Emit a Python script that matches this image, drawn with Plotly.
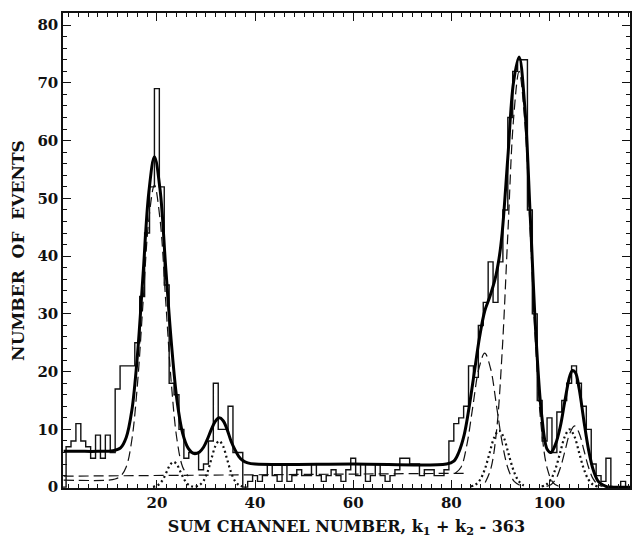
import plotly.graph_objects as go

# ---------------- data ----------------
channels = list(range(1, 116))
counts = [0, 7, 8, 11, 8, 7, 5, 9, 5, 9,          # 1-10
          6, 17, 21, 21, 21, 25, 33, 44, 52, 69,   # 11-20
          52, 35, 18, 16, 10, 5, 6, 6, 3, 4,       # 21-30
          8, 18, 10, 10, 14, 6, 6, 0, 1, 2,        # 31-40
          1, 2, 4, 2, 1, 4, 1, 2, 3, 2,            # 41-50
          2, 4, 2, 1, 2, 3, 2, 1, 3, 5,            # 51-60
          2, 4, 1, 2, 4, 2, 1, 2, 3, 5,            # 61-70
          5, 4, 4, 2, 3, 3, 2, 2, 3, 8,            # 71-80
          11, 12, 14, 21, 19, 28, 32, 39, 32, 39,  # 81-90
          48, 64, 72, 74, 74, 48, 30, 15, 8, 12,   # 91-100
          6, 13, 15, 18, 21, 18, 14, 10, 4, 2,     # 101-110
          1, 5, 0, 0, 1]                           # 111-115

# total fit (thick solid)
fit_x = [1, 4, 8, 11, 12.6, 13.75, 14.9, 16.05, 17.2, 18.35, 19.5, 20.65, 21.8,
         22.95, 24.1, 25.25, 26.4, 27.6, 28.7, 29.5, 30.3, 31.1, 31.9, 32.7, 33.5,
         34.3, 35.1, 35.9, 36.7, 37.5, 38.5, 40, 60, 79, 80.5, 81.5, 82.6, 83.65,
         84.7, 85.75, 86.8, 87.85, 88.9, 89.7, 90.35, 91.5, 92.65, 93.8, 94.95,
         96.1, 97.25, 98.4, 99.55, 100.3, 101.25, 102.2, 103.15, 104.15, 104.7,
         105.3, 106.05, 107.0, 107.95, 108.9, 109.85, 110.8, 111.8, 113, 116.4]
fit_y = [6.2, 6.2, 6.2, 6.3, 6.8, 8.6, 13.3, 23, 37, 51, 57.2, 51.5, 38,
         25, 15, 9.3, 6.7, 5.8, 6.1, 6.9, 8.3, 10.0, 11.4, 12.0, 11.5,
         10.0, 8.0, 6.5, 5.3, 4.6, 4.2, 4.0, 4.0, 4.0, 4.5, 6, 9, 14,
         20, 26, 30.5, 33, 36, 39.5, 44, 57, 70, 74.5, 66,
         46.5, 26, 12.5, 6.5, 6.0, 7.5, 10.5, 15, 19.3, 20.2,
         19.8, 17, 11.5, 6.5, 3.0, 1.1, 0.4, 0.05, 0, 0]

# dashed components
bkg_x = [1, 83]
bkg_y = [1.9, 2.4]
dash1_x = [1, 10, 11.5, 12.6, 13.75, 14.9, 16.05, 17.2, 18.35, 19.5, 20.65,
           21.8, 22.95, 24.1, 25.25, 26.4]
dash1_y = [1.2, 1.2, 1.4, 1.9, 3.5, 8.2, 17.9, 32.2, 46.3, 52.3, 46.3,
           32.2, 17.9, 8.2, 3.5, 1.9]
dash2_x = [80.8, 82.0, 83.2, 84.4, 85.6, 86.8, 88.0, 89.2, 90.4, 91.6, 92.8, 94.0]
dash2_y = [2.4, 3.5, 7.5, 14.1, 20.5, 23.2, 20.5, 14.1, 7.5, 3.1, 1.0, 0.3]
dash3_x = [86.9, 88.05, 89.2, 90.35, 91.5, 92.65, 93.8, 94.95, 96.1, 97.25,
           98.4, 99.55, 100.7, 101.85]
dash3_y = [0.8, 3.2, 9.7, 23.4, 43.7, 63.5, 72, 63.5, 43.7, 23.4, 9.7, 3.2, 0.8, 0.15]
dash4_x = [99.4, 100.35, 101.3, 102.25, 103.2, 104.15, 105.1, 106.05, 107.0,
           107.95, 108.9, 109.85, 110.8]
dash4_y = [0.12, 0.47, 1.42, 3.44, 6.43, 9.35, 10.6, 9.35, 6.43, 3.44, 1.42, 0.47, 0.12]

# dotted components
dot1_x = [19.2, 19.9, 20.6, 21.3, 22.0, 22.7, 23.4, 24.1, 24.8, 25.5, 26.2, 26.9, 27.6]
dot1_y = [0.05, 0.19, 0.6, 1.43, 2.67, 3.88, 4.4, 3.88, 2.67, 1.43, 0.6, 0.19, 0.05]
dot2_x = [27.9, 28.7, 29.5, 30.3, 31.1, 31.9, 32.7, 33.5, 34.3, 35.1, 35.9, 36.7, 37.5]
dot2_y = [0.09, 0.35, 1.08, 2.6, 4.85, 7.06, 8.0, 7.06, 4.85, 2.6, 1.08, 0.35, 0.09]
dot3_x = [84.0, 84.95, 85.9, 86.85, 87.8, 88.75, 89.7, 90.65, 91.6, 92.55, 93.5, 94.45, 95.4]
dot3_y = [0.11, 0.43, 1.33, 3.18, 5.94, 8.65, 9.8, 8.65, 5.94, 3.18, 1.33, 0.43, 0.11]
dot4_x = [98.4, 99.35, 100.3, 101.25, 102.2, 103.15, 104.1, 105.05, 106.0, 106.95,
          107.9, 108.85, 109.8]
dot4_y = [0.11, 0.44, 1.35, 3.25, 6.07, 8.83, 10.0, 8.83, 6.07, 3.25, 1.35, 0.44, 0.11]

x_ticks = [20, 40, 60, 80, 100]
y_ticks = [0, 10, 20, 30, 40, 50, 60, 70, 80]

# ---------------- figure ----------------
# histogram outline built from bin edges
edges = [c - 0.5 for c in channels]
hist_x = [edges[0]] + edges + [channels[-1] + 0.5]
hist_y = [0] + counts + [0]

fig = go.Figure()
fig.add_trace(go.Scatter(x=hist_x, y=hist_y, mode="lines", line_shape="hv",
                         line=dict(color="#111111", width=1.4), hoverinfo="skip"))

dash_style = dict(color="#111111", width=1.2, dash="10px,5px")
for xs, ys in [(bkg_x, bkg_y), (dash1_x, dash1_y), (dash2_x, dash2_y),
               (dash3_x, dash3_y), (dash4_x, dash4_y)]:
    fig.add_trace(go.Scatter(x=xs, y=ys, mode="lines", line_shape="spline",
                             line=dash_style))

dot_style = dict(color="#111111", width=2.2, dash="2px,3px")
for xs, ys in [(dot1_x, dot1_y), (dot2_x, dot2_y), (dot3_x, dot3_y), (dot4_x, dot4_y)]:
    fig.add_trace(go.Scatter(x=xs, y=ys, mode="lines", line_shape="spline",
                             line=dot_style))

fig.add_trace(go.Scatter(x=fit_x, y=fit_y, mode="lines", line_shape="spline",
                         line=dict(color="#000000", width=3)))

font_tick = dict(family="DejaVu Serif", size=15, color="#111111", weight="bold")
font_xtitle = dict(family="DejaVu Serif", size=16, color="#111111", weight="bold")
font_ytitle = dict(family="DejaVu Serif", size=17, color="#111111", weight="bold")

fig.update_layout(
    width=636, height=541,
    margin=dict(l=63, r=4, t=13, b=53),
    paper_bgcolor="white", plot_bgcolor="white",
    showlegend=False,
    xaxis=dict(range=[0.87, 116.4], tickvals=x_ticks, ticks="inside", ticklen=8,
               tickwidth=1.3, tickcolor="#111", showline=True, linecolor="#111",
               linewidth=1.5, mirror="allticks", showgrid=False, zeroline=False,
               tickfont=font_tick,
               minor=dict(dtick=2, tick0=0, ticks="inside", ticklen=4,
                          tickwidth=1, tickcolor="#111", showgrid=False),
               title=dict(text="SUM CHANNEL NUMBER, k<sub>1</sub> + k<sub>2</sub> - 363",
                          font=font_xtitle, standoff=10)),
    yaxis=dict(range=[-0.15, 82.1], tickvals=y_ticks, ticks="inside", ticklen=8,
               tickwidth=1.3, tickcolor="#111", showline=True, linecolor="#111",
               linewidth=1.5, mirror="allticks", showgrid=False,
               zeroline=True, zerolinecolor="#000", zerolinewidth=3,
               tickfont=font_tick,
               minor=dict(dtick=2, tick0=0, ticks="inside", ticklen=4,
                          tickwidth=1, tickcolor="#111", showgrid=False),
               title=dict(text="NUMBER  OF  EVENTS", font=font_ytitle, standoff=8)),
)

fig.write_html("out.html")
